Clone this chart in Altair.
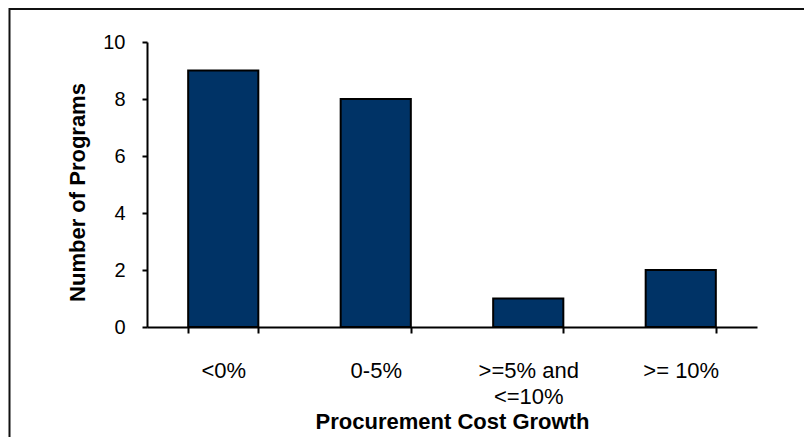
import altair as alt
import pandas as pd

categories = ["<0%", "0-5%", ">=5% and\n<=10%", ">= 10%"]
programs = [9, 8, 1, 2]
y_ticks = [0, 2, 4, 6, 8, 10]

df = pd.DataFrame({"cat": categories, "n": programs})

FONT = "Liberation Sans"

bars = alt.Chart(df).mark_bar(
    color="#003366", stroke="#000000", strokeWidth=2
).encode(
    x=alt.X(
        "cat:N",
        sort=categories,
        scale=alt.Scale(paddingInner=0.54, paddingOuter=0.27),
        axis=alt.Axis(
            title="Procurement Cost Growth",
            labelAngle=0,
            labelExpr="split(datum.label, '\\n')",
            labelFont=FONT,
            labelFontSize=22,
            labelColor="#000000",
            labelBaseline="alphabetic",
            labelPadding=44,
            labelLineHeight=26,
            tickBand="extent",
            tickSize=6,
            tickWidth=2,
            tickColor="#000000",
            domainColor="#000000",
            domainWidth=2,
            titleFont=FONT,
            titleFontSize=22,
            titleFontWeight="bold",
            titleColor="#000000",
            titleBaseline="alphabetic",
            titleX=305,
            titleY=101,
            titleAlign="center",
        ),
    ),
    y=alt.Y(
        "n:Q",
        scale=alt.Scale(domain=[0, 10]),
        axis=alt.Axis(
            title="Number of Programs",
            values=y_ticks,
            grid=False,
            labelFont=FONT,
            labelFontSize=20,
            labelColor="#000000",
            labelPadding=17,
            tickSize=5,
            tickWidth=2,
            tickColor="#000000",
            domainColor="#000000",
            domainWidth=2,
            titleFont=FONT,
            titleFontSize=22,
            titleFontWeight="bold",
            titleColor="#000000",
            titleBaseline="alphabetic",
            titleX=-63,
            titleY=150,
            titleAlign="center",
            titleAngle=270,
        ),
    ),
)

frame_df = pd.DataFrame({"d": [0]})
frame = alt.Chart(frame_df).mark_rect(
    fill=None, stroke="#111111", strokeWidth=2
).encode(
    x=alt.value(-137.5), x2=alt.value(760), y=alt.value(-33), y2=alt.value(480)
)

chart = alt.layer(frame, bars).properties(
    width=610,
    height=285,
    autosize=alt.AutoSizeParams(type="none"),
    padding={"left": 139, "top": 34, "right": 47, "bottom": 110},
    background="#ffffff",
).configure_view(stroke=None)

chart.save("out.html", embed_options={"renderer": "svg", "actions": False})
